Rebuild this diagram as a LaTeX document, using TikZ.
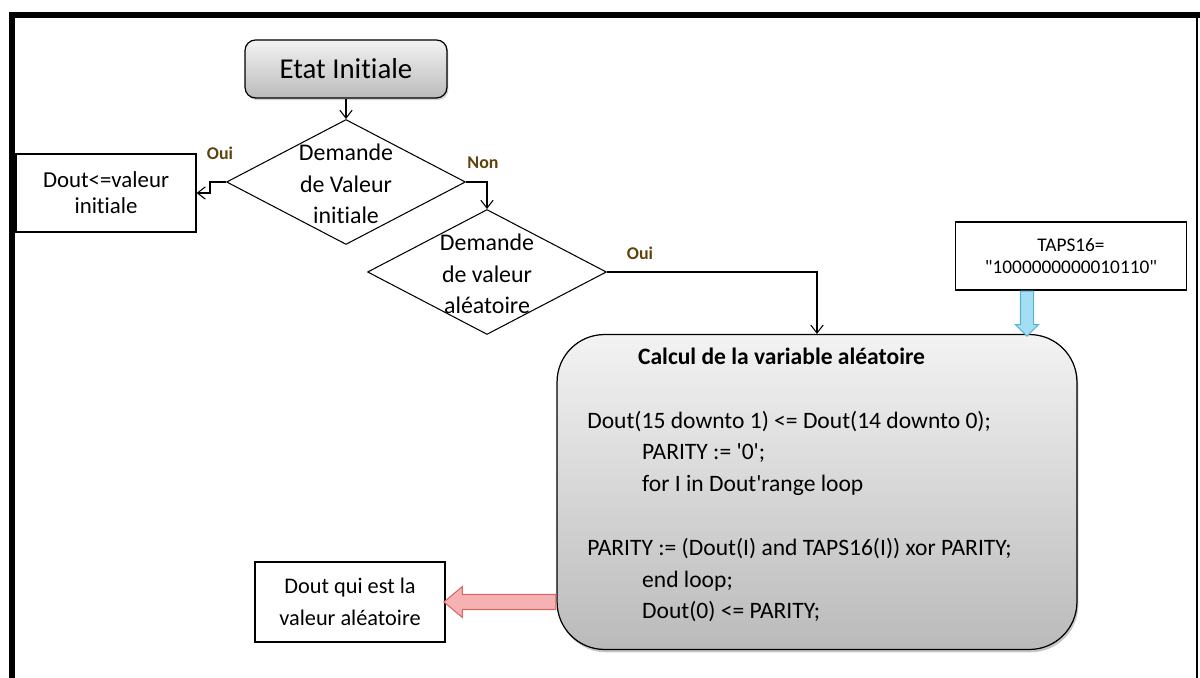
\documentclass[tikz,border=0pt]{standalone}
\usepackage{fontspec}
\usepackage{tikz}
\usetikzlibrary{shapes.geometric,shapes.arrows,shadows,arrows.meta,calc}
\newfontfamily\calibri{Carlito}[Ligatures=NoCommon]

\definecolor{boxtop}{RGB}{243,243,243}
\definecolor{boxbottom}{RGB}{186,186,186}
\definecolor{labelcol}{RGB}{96,66,14}
\definecolor{tapsfill}{RGB}{164,222,243}
\definecolor{tapsdraw}{RGB}{92,178,214}
\definecolor{outfill}{RGB}{246,178,178}
\definecolor{outdraw}{RGB}{214,104,104}

\tikzset{
	startbox/.style={draw, rounded corners=6pt, line width=0.7pt, top color=boxtop, bottom color=boxbottom,
		drop shadow={shadow xshift=0.8pt, shadow yshift=-1.2pt, opacity=0.35},
		minimum width=4.04cm, minimum height=1.16cm, font=\calibri\fontsize{16.4}{19}\selectfont},
	decision/.style={diamond, draw, line width=0.6pt, fill=white, minimum width=4.78cm, minimum height=2.5cm, inner sep=0pt},
	decisiontext/.style={align=center, inner sep=0pt, font=\calibri\fontsize{13.6}{17.9}\selectfont},
	plainbox/.style={draw, line width=0.7pt, fill=white, align=center},
	calcbox/.style={draw, rounded corners=0.95cm, line width=0.7pt, top color=boxtop, bottom color=boxbottom,
		drop shadow={shadow xshift=0.8pt, shadow yshift=-1.6pt, opacity=0.45},
		minimum width=10.4cm, minimum height=6.3cm},
	code/.style={align=left, inner sep=0pt, font=\calibri\fontsize{13.4}{18.1}\selectfont},
	yesno/.style={text=labelcol, inner sep=0pt, font=\calibri\bfseries\fontsize{10.2}{11}\selectfont},
	conn/.style={->, line width=0.6pt},
	tapsarrow/.style={single arrow, draw=tapsdraw, fill=tapsfill, line width=0.6pt, inner xsep=0pt, inner ysep=0.12cm,
		single arrow head extend=0.1cm, minimum height=0.9cm},
	outarrow/.style={single arrow, draw=outdraw, fill=outfill, line width=0.6pt, inner xsep=0pt, inner ysep=0.14cm,
		single arrow head extend=0.16cm, single arrow tip angle=80, minimum height=2.24cm},
	>={Straight Barb[length=4.5pt,width=7pt]}
}

\begin{document}
\begin{tikzpicture}[x=0.02cm, y=-0.02cm]
	\useasboundingbox (0,0) rectangle (1200,678);

	% Frame
	\draw[line width=3.4pt] (12,678) -- (12,15) -- (1200,15);
	\draw[line width=0.8pt] (1197,15) -- (1197,678);

	% States and tests
	\node[startbox] (etat) at (346,69) {Etat Initiale};
	\node[decision] (qinit) at (346,182) {};
	\node[decisiontext] (qinittext) at (346,184) {Demande\\de Valeur\\initiale};
	\node[decision] (qalea) at (487,272) {};
	\node[decisiontext] (qaleatext) at (487,274) {Demande\\de valeur\\aléatoire};

	% Boxes
	\node[plainbox, minimum width=3.6cm, minimum height=1.56cm, font=\calibri\fontsize{13}{14.7}\selectfont]
		(initval) at (106,193) {Dout<=valeur\\initiale};
	\node[plainbox, minimum width=4.62cm, minimum height=1.36cm, font=\calibri\fontsize{11}{12.5}\selectfont]
		(taps) at (1071,256) {TAPS16=\\"1000000000010110"};
	\node[plainbox, minimum width=3.8cm, minimum height=1.6cm, font=\calibri\fontsize{12.7}{18}\selectfont]
		(result) at (350,602) {Dout qui est la\\valeur aléatoire};
	\node[calcbox] (calc) at (817,492) {};
	\node[code, anchor=west] (calctext) at (587,485) {%
		\hspace*{28.9pt}\textbf{Calcul de la variable aléatoire}\\[18.1pt]
		Dout(15 downto 1) <= Dout(14 downto 0);\\
		\hspace*{31.2pt}PARITY := '0';\\
		\hspace*{31.2pt}for I in Dout'range loop\\[18.1pt]
		PARITY := (Dout(I) and TAPS16(I)) xor PARITY;\\
		\hspace*{31.2pt}end loop;\\
		\hspace*{31.2pt}Dout(0) <= PARITY;};

	% Connectors
	\draw[conn] (etat) -- (qinit);
	\draw[conn] (qinit.west) -- ++(-16,0) |- (initval.east);
	\draw[conn] (qinit.east) -| (qalea.north);
	\draw[conn] (qalea.east) -| (calc.north);

	% Branch labels
	\node[yesno] (oui1) at (220,153) {Oui};
	\node[yesno] (non1) at (483,163) {Non};
	\node[yesno] (oui2) at (640,253) {Oui};

	% Block arrows
	\node[tapsarrow, rotate=-90, anchor=tail] (tapsarr) at ($(taps.south)+(-44,0)$) {};
	\node[outarrow, rotate=180, anchor=tail] (outarr) at (calc.west |- result.east) {};
\end{tikzpicture}
\end{document}
